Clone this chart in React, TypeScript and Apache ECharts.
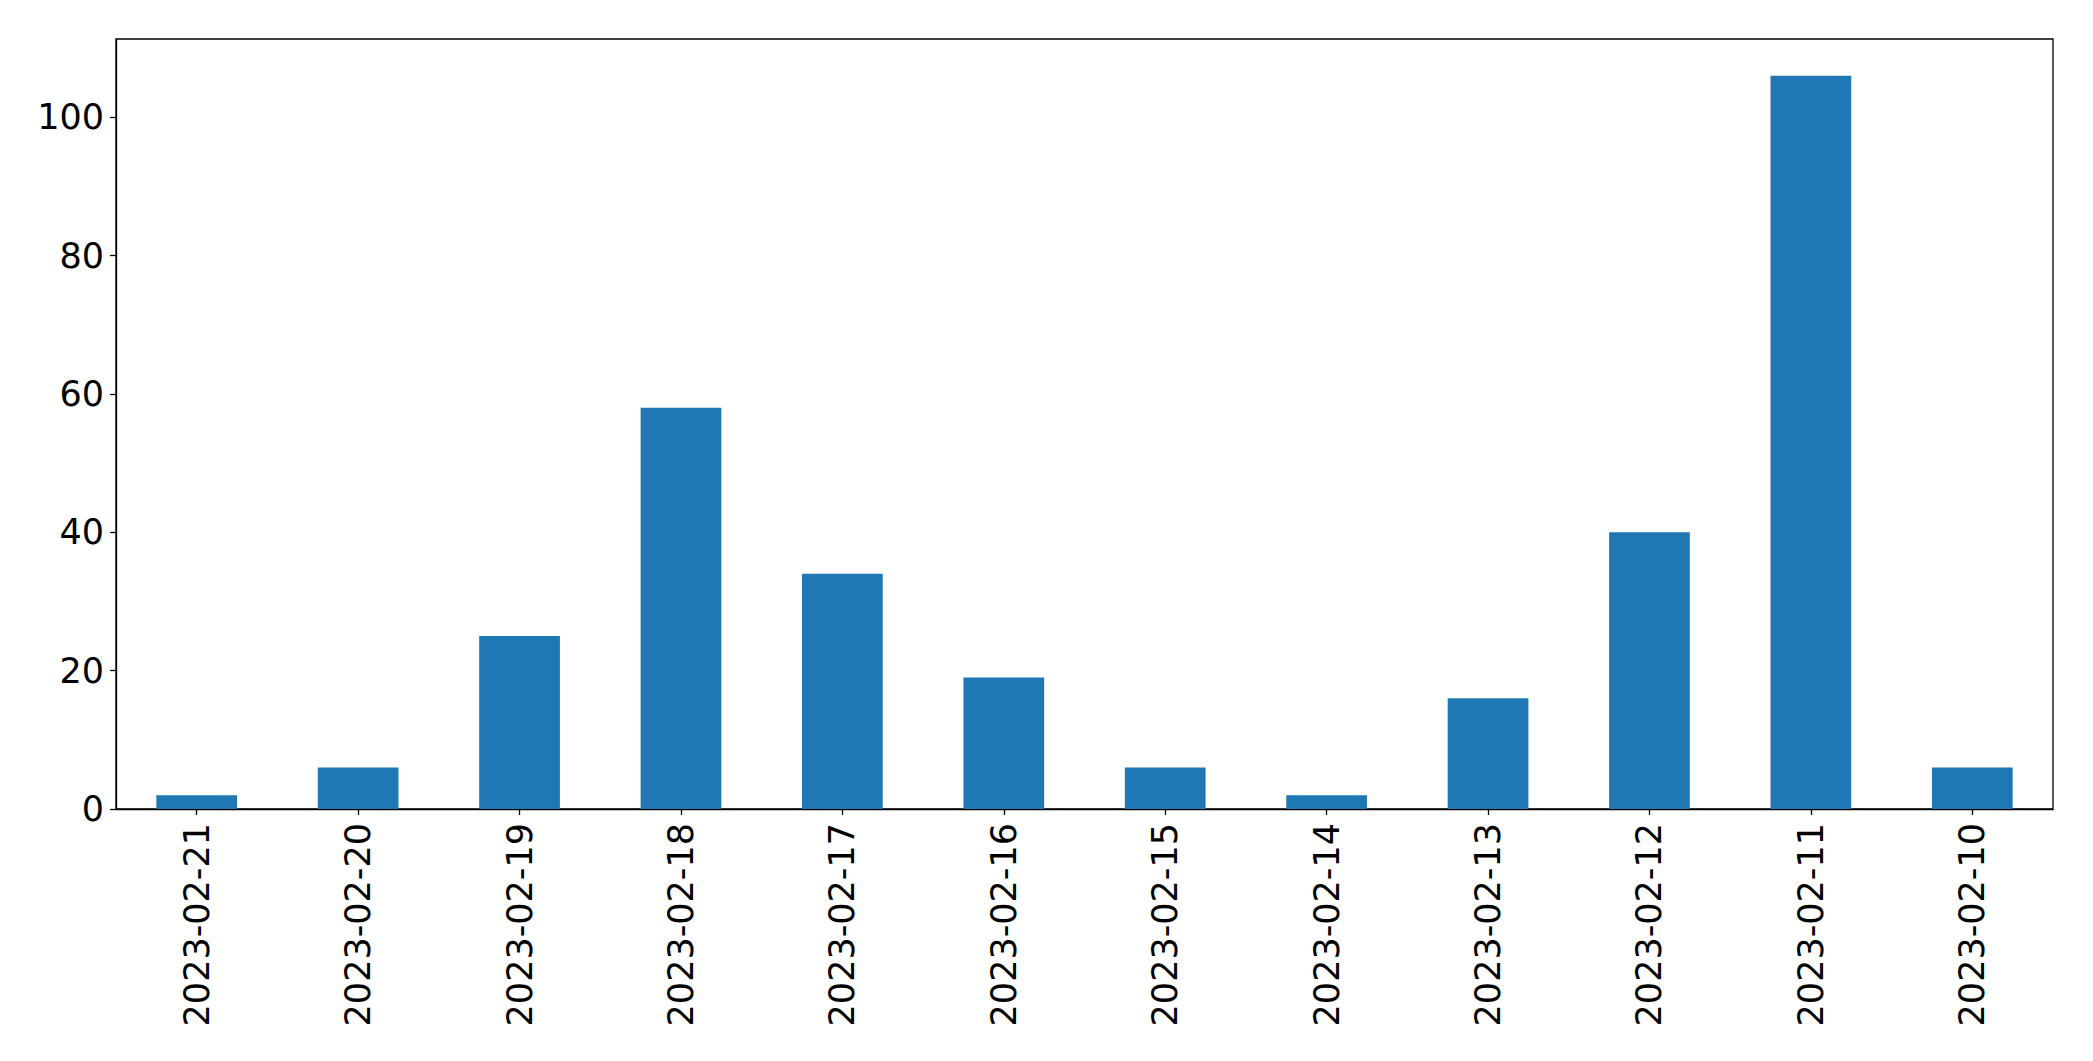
import React, { useEffect, useRef } from "react";
import * as echarts from "echarts";

const categories = [
  "2023-02-21", "2023-02-20", "2023-02-19", "2023-02-18", "2023-02-17", "2023-02-16",
  "2023-02-15", "2023-02-14", "2023-02-13", "2023-02-12", "2023-02-11", "2023-02-10",
];
const values = [2, 6, 25, 58, 34, 19, 6, 2, 16, 40, 106, 6];
const yMax = 111.3;

export default function App() {
  const ref = useRef<HTMLDivElement>(null);
  useEffect(() => {
    document.body.style.margin = "0";
    const chart = echarts.init(ref.current!, null, { renderer: "svg" });
    chart.setOption({
      animation: false,
      backgroundColor: "#fff",
      textStyle: { fontFamily: "DejaVu Sans" },
      grid: {
        left: 116, right: 40, top: 39, bottom: 252,
        show: true, borderColor: "#000", borderWidth: 1.3, backgroundColor: "transparent",
      },
      xAxis: {
        type: "category",
        data: categories,
        axisLine: { show: true, lineStyle: { color: "#000", width: 1.3 } },
        axisTick: { show: true, alignWithLabel: true, length: 6, interval: 0, lineStyle: { color: "#000", width: 1.3 } },
        axisLabel: { rotate: 90, interval: 0, fontSize: 35, color: "#000", margin: 14, fontFamily: "DejaVu Sans" },
        splitLine: { show: false },
      },
      yAxis: {
        type: "value",
        min: 0, max: yMax, interval: 20,
        axisLine: { show: true, lineStyle: { color: "#000", width: 1.3 } },
        axisTick: { show: true, length: 6, lineStyle: { color: "#000", width: 1.3 } },
        axisLabel: { fontSize: 35, color: "#000", margin: 12, showMaxLabel: false, fontFamily: "DejaVu Sans" },
        splitLine: { show: false },
      },
      series: [
        {
          type: "bar",
          data: values,
          barWidth: "50%",
          itemStyle: { color: "#1f77b4" },
        },
      ],
    });
    return () => chart.dispose();
  }, []);
  return <div ref={ref} style={{ position: "absolute", left: 0, top: 0, width: 2093, height: 1061 }} />;
}
